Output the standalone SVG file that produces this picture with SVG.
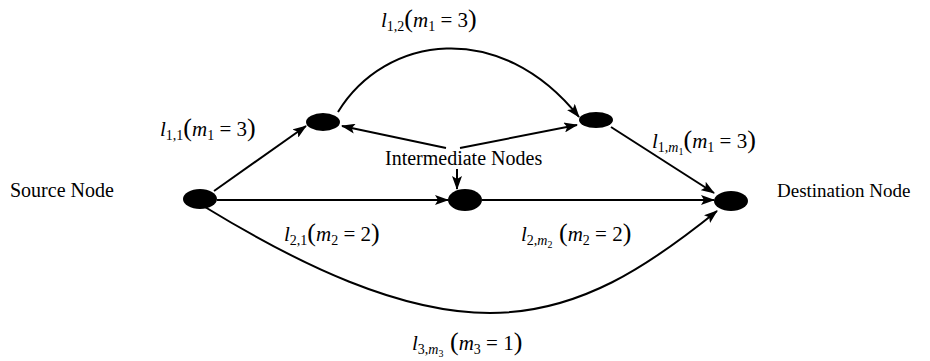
<svg xmlns="http://www.w3.org/2000/svg" width="930" height="361" viewBox="0 0 930 361">
<style>
.node{fill:#000}
.edge{fill:none;stroke:#000;stroke-width:2}
.t{font-family:"Liberation Serif","Times New Roman",serif;font-size:20px;fill:#000}
.m{font-family:"Liberation Serif","Times New Roman",serif;font-size:21px;fill:#000}
.i{font-style:italic}
.s{font-size:14px}
.ss{font-size:10px}
.p{font-size:26px}
</style>
<defs>
<marker id="ah" markerUnits="userSpaceOnUse" markerWidth="14" markerHeight="10" refX="13" refY="5" orient="auto">
<path d="M0,0 L14,5 L0,10 L3,5 z" fill="#000"/>
</marker>
</defs>
<rect width="930" height="361" fill="#fff"/>
<g id="connectors">
<line class="edge" x1="214" y1="191" x2="306" y2="126" marker-end="url(#ah)"/>
<line class="edge" x1="217" y1="200" x2="448" y2="200" marker-end="url(#ah)"/>
<line class="edge" x1="482" y1="200" x2="714" y2="200" marker-end="url(#ah)"/>
<line class="edge" x1="611" y1="127" x2="714" y2="193" marker-end="url(#ah)"/>
<path class="edge" d="M338,112 C385,35 500,18 579,117" marker-end="url(#ah)"/>
<path class="edge" d="M205,207 C300,265 400,313 490,313 C580,313 650,265 717,211" marker-end="url(#ah)"/>
<line class="edge" x1="446" y1="148" x2="342" y2="126" marker-end="url(#ah)"/>
<line class="edge" x1="460" y1="148" x2="577" y2="125" marker-end="url(#ah)"/>
<line class="edge" x1="457" y1="169" x2="457" y2="189" marker-end="url(#ah)"/>
</g>
<g id="source"><ellipse class="node" cx="200" cy="199" rx="17" ry="10"/><text class="t" x="10" y="197">Source Node</text></g>
<g id="top-left"><ellipse class="node" cx="323" cy="122" rx="17" ry="9"/></g>
<g id="top-right"><ellipse class="node" cx="596" cy="120" rx="17" ry="8"/></g>
<g id="middle"><ellipse class="node" cx="465" cy="200" rx="17" ry="11"/></g>
<g id="destination"><ellipse class="node" cx="731" cy="201" rx="17" ry="10"/><text class="t" x="777" y="197" style="font-size:19px">Destination Node</text></g>
<g id="intermediate-label"><text class="t" x="385" y="165">Intermediate Nodes</text></g>
<g id="labels">
<text class="m" x="381" y="27"><tspan class="i">l</tspan><tspan class="s" dy="4">1,2</tspan><tspan class="p" dy="-4">(</tspan><tspan class="i">m</tspan><tspan class="s" dy="4">1</tspan><tspan dy="-4"> = 3</tspan><tspan class="p">)</tspan></text>
<text class="m" x="160" y="136"><tspan class="i">l</tspan><tspan class="s" dy="4">1,1</tspan><tspan class="p" dy="-4">(</tspan><tspan class="i">m</tspan><tspan class="s" dy="4">1</tspan><tspan dy="-4"> = 3</tspan><tspan class="p">)</tspan></text>
<text class="m" x="652" y="148"><tspan class="i">l</tspan><tspan class="s" dy="4">1,<tspan class="i">m</tspan></tspan><tspan class="ss" dy="3">1</tspan><tspan class="p" dy="-7">(</tspan><tspan class="i">m</tspan><tspan class="s" dy="4">1</tspan><tspan dy="-4"> = 3</tspan><tspan class="p">)</tspan></text>
<text class="m" x="521" y="241"><tspan class="i">l</tspan><tspan class="s" dy="4">2,<tspan class="i">m</tspan></tspan><tspan class="ss" dy="3">2</tspan><tspan class="p" dy="-7"> (</tspan><tspan class="i">m</tspan><tspan class="s" dy="4">2</tspan><tspan dy="-4"> = 2</tspan><tspan class="p">)</tspan></text>
<text class="m" x="284" y="241"><tspan class="i">l</tspan><tspan class="s" dy="4">2,1</tspan><tspan class="p" dy="-4">(</tspan><tspan class="i">m</tspan><tspan class="s" dy="4">2</tspan><tspan dy="-4"> = 2</tspan><tspan class="p">)</tspan></text>
<text class="m" x="412" y="350"><tspan class="i">l</tspan><tspan class="s" dy="4">3,<tspan class="i">m</tspan></tspan><tspan class="ss" dy="3">3</tspan><tspan class="p" dy="-7"> (</tspan><tspan class="i">m</tspan><tspan class="s" dy="4">3</tspan><tspan dy="-4"> = 1</tspan><tspan class="p">)</tspan></text>
</g>
</svg>
